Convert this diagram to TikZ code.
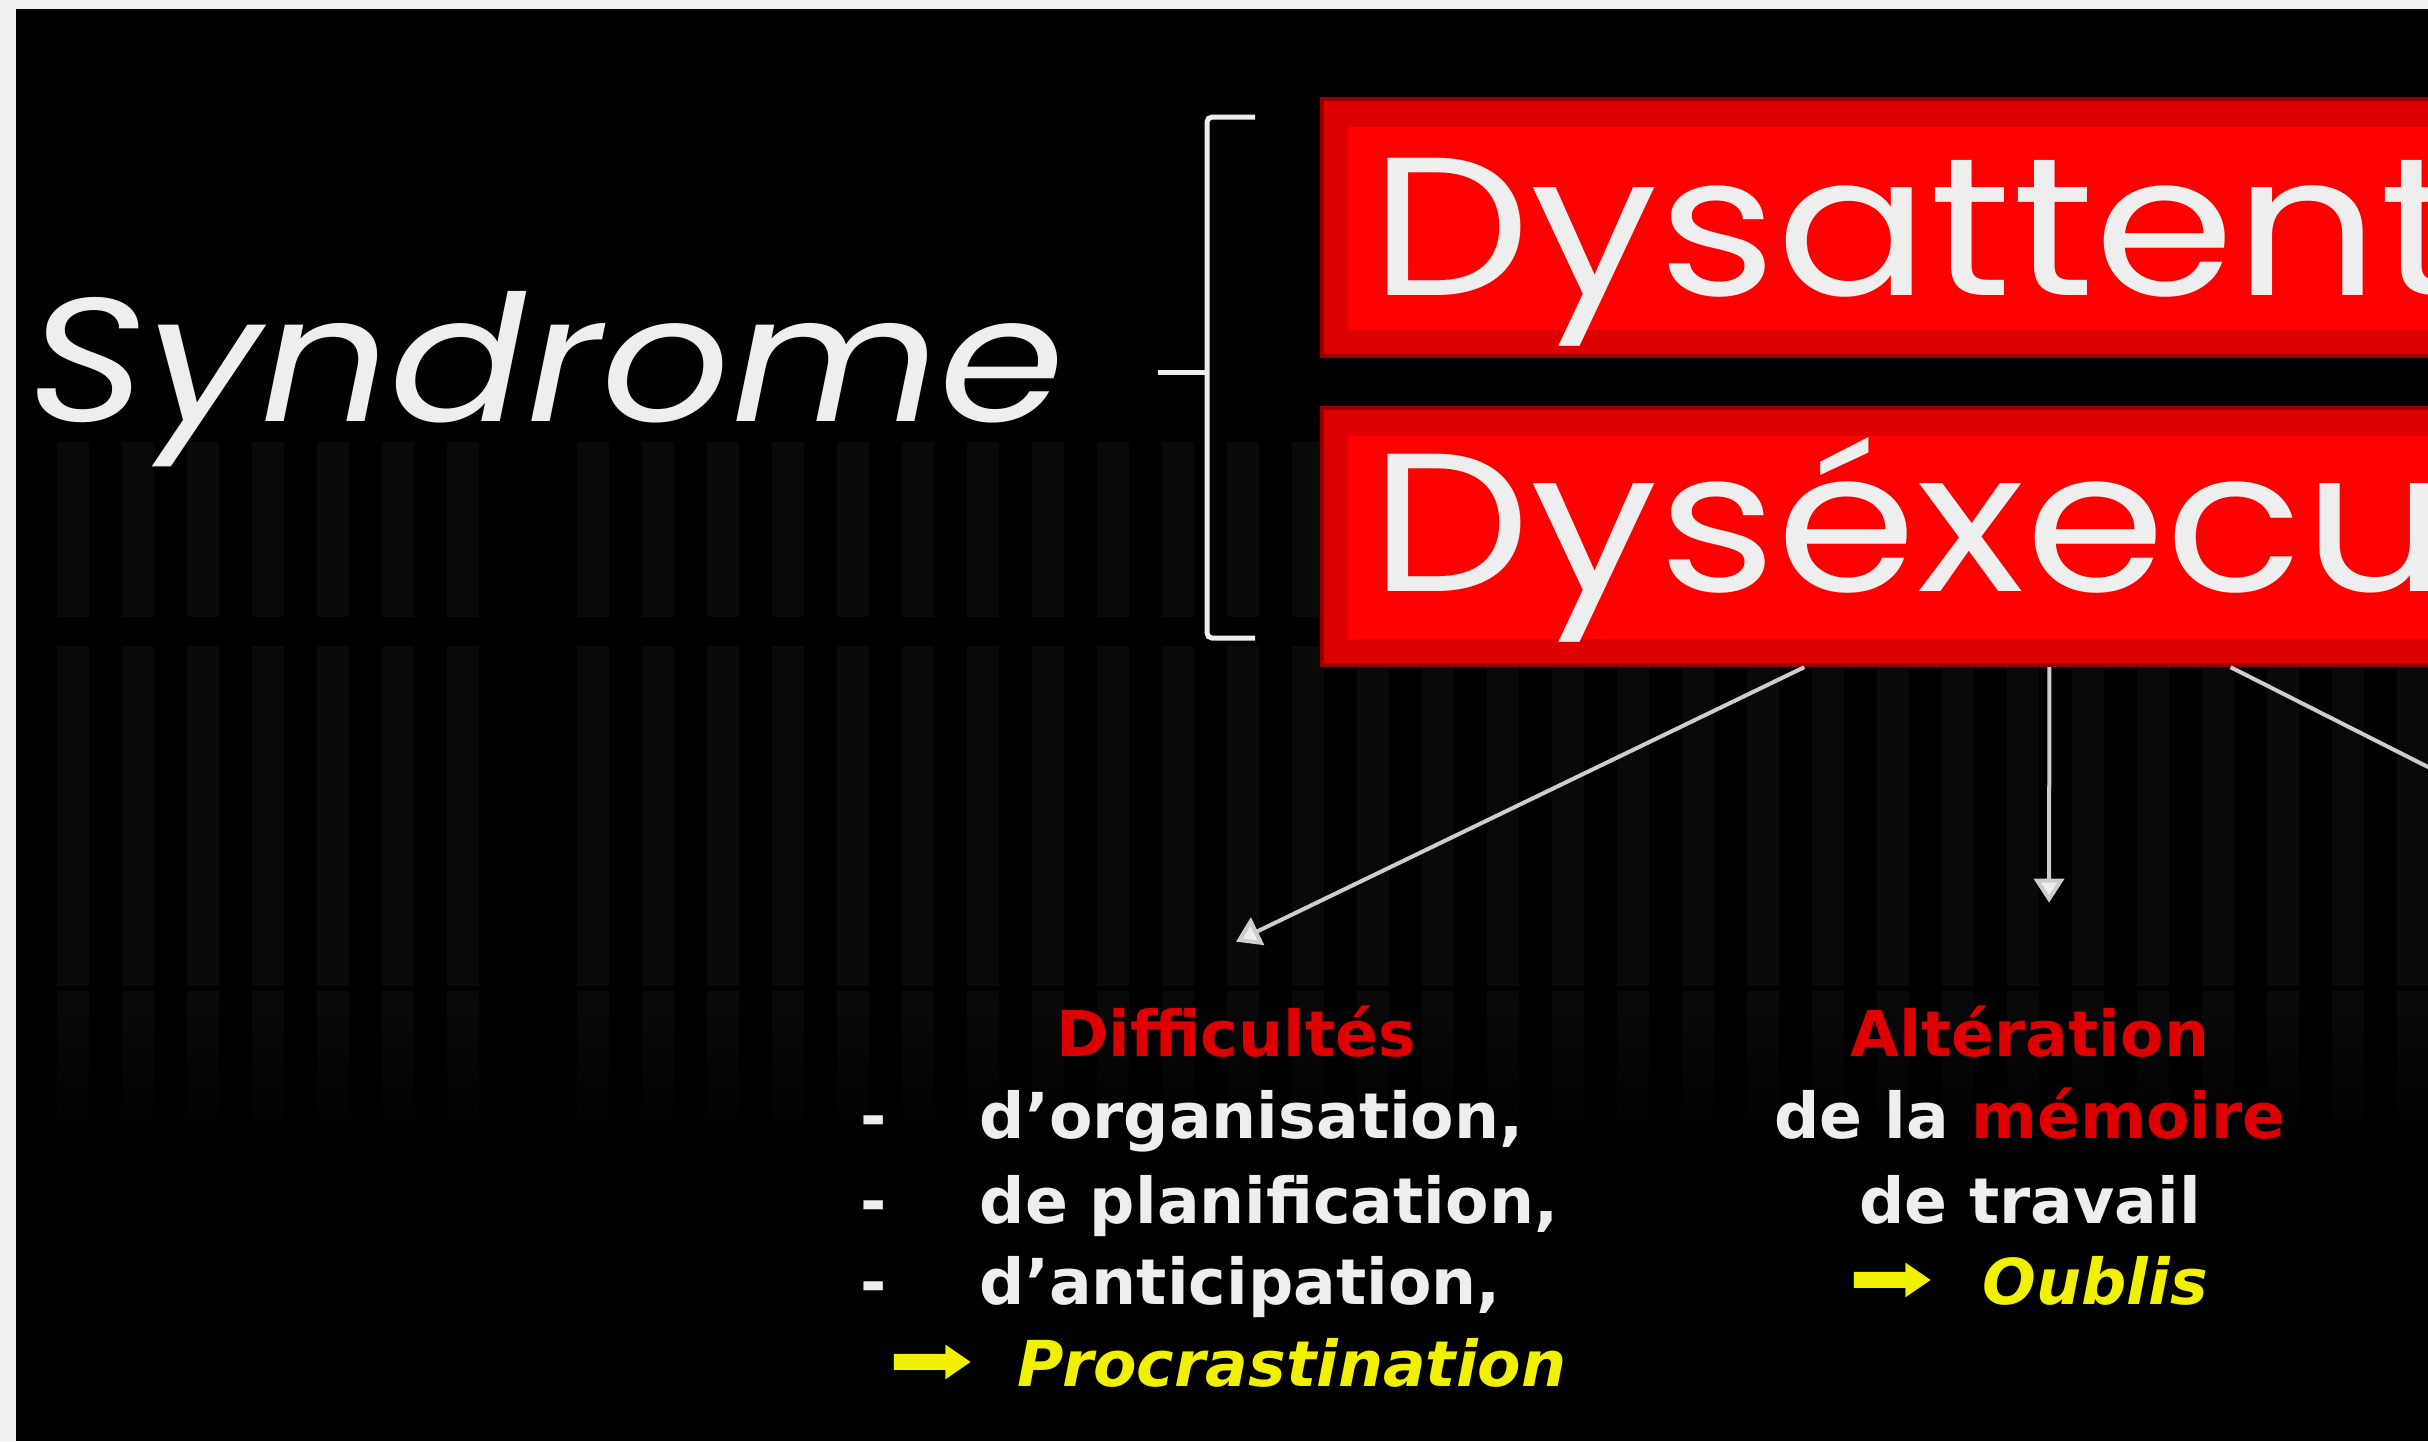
\documentclass[tikz,border=0pt]{standalone}
\usepackage{fontspec}
\setmainfont{DejaVu Sans}
\newfontfamily\titlefont[FakeStretch=1.15]{Poppins}
\usetikzlibrary{arrows.meta,positioning,calc}

\definecolor{dysred}{RGB}{255,0,0}
\definecolor{dysbevel}{RGB}{222,0,0}
\definecolor{dysedge}{RGB}{150,0,0}
\definecolor{txtred}{RGB}{222,0,0}
\definecolor{txtyellow}{RGB}{240,240,0}
\definecolor{txtwhite}{RGB}{238,238,238}
\definecolor{arrowgray}{RGB}{205,205,205}
\definecolor{pagemargin}{RGB}{240,240,240}
\definecolor{stripe}{RGB}{9,9,9}

\tikzset{
  redbox/.style={fill=dysbevel,draw=dysedge,line width=0.04cm,inner sep=0pt,
                 minimum width=15cm},
  titletext/.style={font=\titlefont\fontsize{56}{60}\selectfont,
                    text=txtwhite,inner sep=0pt},
  detail/.style={font=\bfseries\fontsize{18}{24}\selectfont,
                 text=txtwhite,inner sep=0pt},
  conclusion/.style={detail,text=txtyellow},
  fleche/.style={draw=arrowgray,line width=0.04cm,
                 -{Triangle[width=0.3cm,length=0.24cm,fill=txtwhite]}},
  accolade/.style={draw=txtwhite,line width=0.05cm,rounded corners=0.05cm}
}
\newcommand{\grossefleche}{\scalebox{1.45}[1]{➡}}

\begin{document}
\begin{tikzpicture}[x=0.01cm,y=-0.01cm]
  \useasboundingbox (0,0) rectangle (2428,1441);
  \clip (0,0) rectangle (2428,1441);
  \fill[pagemargin] (0,0) rectangle (2428,1441);
  \fill[black] (16,9) rectangle (2428,1441);

  %% faint vertical stripes of the slide background
  \foreach \k [evaluate=\k as \sx using 57+65*\k] in {0,...,6,8,9,...,36}{
    \fill[stripe] (\sx,442) rectangle ++(32,175);
    \fill[stripe] (\sx,646) rectangle ++(32,340);
    \shade[top color=stripe,bottom color=black] (\sx,991) rectangle ++(32,152);
  }

  %% Syndrome + brace
  \node[titletext,font=\titlefont\itshape\fontsize{50}{54}\selectfont,
        anchor=base west] (syndrome) at (28,421) {Syndrome};
  \draw[accolade] (1255,117) -- (1207,117) -- (1207,638) -- (1255,638);
  \draw[accolade] (1207,372) -- (1158,372);

  %% the two red boxes
  \node[redbox,anchor=north west,minimum height=2.57cm] (dysatt) at (1320,97) {};
  \fill[dysred] ([shift={(0.28cm,-0.3cm)}]dysatt.north west)
        rectangle ([shift={(-0.28cm,0.28cm)}]dysatt.south east);
  \node[titletext,anchor=base west] (dysattTxt) at (1370,295) {Dysattention};

  \node[redbox,anchor=north west,minimum height=2.57cm] (dysexe) at (1320,406) {};
  \fill[dysred] ([shift={(0.28cm,-0.3cm)}]dysexe.north west)
        rectangle ([shift={(-0.28cm,0.28cm)}]dysexe.south east);
  \node[titletext,anchor=base west] (dysexeTxt) at (1370,591) {Dyséxecutif};

  %% Difficultes
  \node[detail,text=txtred,anchor=base] (diff) at (1236,1056) {Difficultés};
  \node[detail,anchor=base west] (tiret1) at (860,1138) {-};
  \node[detail,anchor=base west] (orga) at (979,1138) {d’organisation,};
  \node[detail,anchor=base west] (tiret2) at (860,1223) {-};
  \node[detail,anchor=base west] (plan) at (979,1223) {de planification,};
  \node[detail,anchor=base west] (tiret3) at (860,1304) {-};
  \node[detail,anchor=base west] (antic) at (979,1304) {d’anticipation,};
  \node[conclusion,font=\fontsize{20}{24}\selectfont,anchor=base west]
        (fleche1) at (888,1384) {\grossefleche};
  \node[conclusion,font=\bfseries\itshape\fontsize{18}{24}\selectfont,
        anchor=base west] (procr) at (1017,1386) {Procrastination};

  %% Alteration
  \node[detail,text=txtred,anchor=base] (alter) at (2030,1056) {Altération};
  \node[detail,anchor=base] (memoire) at (2030,1138)
        {de la \textcolor{txtred}{mémoire}};
  \node[detail,anchor=base] (travail) at (2030,1223) {de travail};
  \node[conclusion,font=\fontsize{20}{24}\selectfont,anchor=base west]
        (fleche2) at (1848,1302) {\grossefleche};
  \node[conclusion,font=\bfseries\itshape\fontsize{18}{24}\selectfont,
        anchor=base west] (oublis) at (1982,1304) {Oublis};

  %% arrows out of the lower box
  \coordinate (hors) at (2800,955);
  \draw[fleche] ([xshift=4.84cm]dysexe.south west) -- ([yshift=0.63cm]diff.north);
  \draw[fleche] ([xshift=7.29cm]dysexe.south west) -- ([xshift=0.19cm,yshift=1.02cm]alter.north);
  \draw[fleche] ([xshift=9.10cm]dysexe.south west) -- (hors);
\end{tikzpicture}
\end{document}
